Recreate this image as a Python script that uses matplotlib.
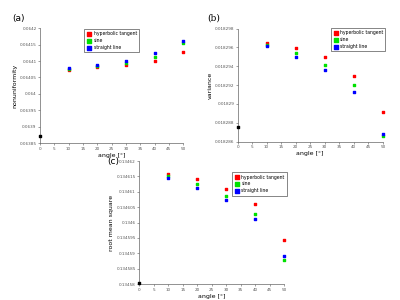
import numpy as np
import matplotlib.pyplot as plt

angles = [10, 20, 30, 40, 50]
ref_angle = 0

nonuni_ref = 0.063872
nonuni_tanh = [0.064074, 0.064081, 0.064087, 0.064101, 0.064128]
nonuni_sine = [0.064077, 0.064085, 0.064095, 0.064112, 0.064154]
nonuni_line = [0.064080, 0.064089, 0.064101, 0.064123, 0.064160]

var_ref = 0.0182875
var_tanh = [0.0182965, 0.0182959, 0.0182950, 0.0182930, 0.0182891]
var_sine = [0.0182963, 0.0182954, 0.0182941, 0.0182920, 0.0182866]
var_line = [0.0182961, 0.0182950, 0.0182936, 0.0182913, 0.0182868]

rms_ref = 0.1345805
rms_tanh = [0.1346157, 0.1346141, 0.1346110, 0.1346062, 0.1345944]
rms_sine = [0.1346150, 0.1346124, 0.1346088, 0.1346028, 0.1345879]
rms_line = [0.1346145, 0.1346114, 0.1346075, 0.1346012, 0.1345890]

labels = ['hyperbolic tangent', 'sine', 'straight line']
colors = ['#ff0000', '#00e000', '#0000ff']


def draw_panel(ax, ref, series, ylabel, yticks, ylabels, legend_loc):
    ax.scatter([ref_angle], [ref], s=3, marker='s', color='black', clip_on=False, zorder=3)
    for vals, lab, col in zip(series, labels, colors):
        ax.scatter(angles, vals, s=3, marker='s', color=col, label=lab, clip_on=False, zorder=3)
    ax.set_xlim(0, 50)
    ax.set_xticks(np.arange(0, 55, 5))
    ax.set_ylim(yticks[0], yticks[-1])
    ax.set_yticks(yticks)
    ax.set_yticklabels(ylabels)
    ax.tick_params(labelsize=3, length=1.5, width=0.4, pad=1, colors='#555555')
    for s in ['top', 'right']:
        ax.spines[s].set_visible(False)
    for s in ['left', 'bottom']:
        ax.spines[s].set_linewidth(0.5)
        ax.spines[s].set_color('#666666')
    ax.set_xlabel('angle [°]', fontsize=4.5, labelpad=1.5)
    ax.set_ylabel(ylabel, fontsize=4.5, labelpad=1.5)
    leg = ax.legend(loc=legend_loc, fontsize=3.3, markerscale=1.5, handletextpad=0.3,
                    borderpad=0.5, labelspacing=0.4, fancybox=False, framealpha=1,
                    handlelength=1.2)
    leg.get_frame().set_linewidth(0.5)
    leg.get_frame().set_edgecolor('#555555')


fig = plt.figure(figsize=(4, 3), dpi=100)

ax_a = fig.add_axes([0.10, 0.523, 0.358, 0.383])
draw_panel(ax_a, nonuni_ref, [nonuni_tanh, nonuni_sine, nonuni_line], 'nonuniformity',
           [0.06385, 0.0639, 0.06395, 0.064, 0.06405, 0.0641, 0.06415, 0.0642],
           ['0.06385', '0.0639', '0.06395', '0.064', '0.06405', '0.0641', '0.06415', '0.0642'],
           (0.31, 0.79))

ax_b = fig.add_axes([0.594, 0.528, 0.363, 0.377])
draw_panel(ax_b, var_ref, [var_tanh, var_sine, var_line], 'variance',
           [0.018286, 0.018288, 0.01829, 0.018292, 0.018294, 0.018296, 0.018298],
           ['0.018286', '0.018288', '0.01829', '0.018292', '0.018294', '0.018296', '0.018298'],
           (0.64, 0.8))

ax_c = fig.add_axes([0.348, 0.053, 0.363, 0.41])
draw_panel(ax_c, rms_ref, [rms_tanh, rms_sine, rms_line], 'root mean square',
           [0.13458, 0.134585, 0.13459, 0.134595, 0.1346, 0.134605, 0.13461, 0.134615, 0.13462],
           ['0.13458', '0.134585', '0.13459', '0.134595', '0.1346', '0.134605', '0.13461',
            '0.134615', '0.13462'],
           (0.64, 0.72))

fig.text(0.03, 0.93, '(a)', fontsize=6.5)
fig.text(0.517, 0.93, '(b)', fontsize=6.5, family='serif')
fig.text(0.268, 0.452, '(c)', fontsize=6.5)

fig.savefig('out.png', dpi=100)
